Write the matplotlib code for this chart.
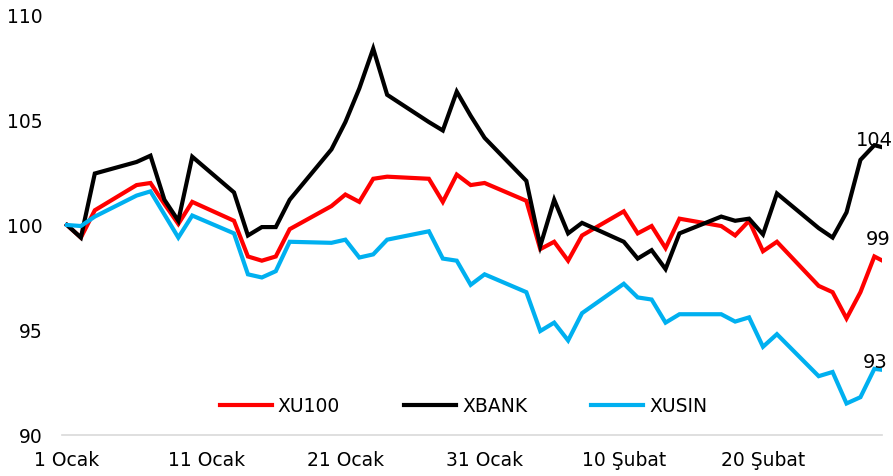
import numpy as np
import pandas as pd
import matplotlib
matplotlib.use("Agg")
import matplotlib.pyplot as plt

# business days, last value is an intraday reading on 28 Feb
dates = pd.to_datetime([
    "2025-01-01", "2025-01-02", "2025-01-03", "2025-01-06", "2025-01-07",
    "2025-01-08", "2025-01-09", "2025-01-10", "2025-01-13", "2025-01-14",
    "2025-01-15", "2025-01-16", "2025-01-17", "2025-01-20", "2025-01-21",
    "2025-01-22", "2025-01-23", "2025-01-24", "2025-01-27", "2025-01-28",
    "2025-01-29", "2025-01-30", "2025-01-31", "2025-02-03", "2025-02-04",
    "2025-02-05", "2025-02-06", "2025-02-07", "2025-02-10", "2025-02-11",
    "2025-02-12", "2025-02-13", "2025-02-14", "2025-02-17", "2025-02-18",
    "2025-02-19", "2025-02-20", "2025-02-21", "2025-02-24", "2025-02-25",
    "2025-02-26", "2025-02-27", "2025-02-28", "2025-02-28 14:00",
], format="ISO8601")

xu100 = [100, 99.4, 100.7, 101.9, 102.0, 101.0, 100.05, 101.1, 100.2, 98.5,
         98.3, 98.5, 99.8, 100.9, 101.45, 101.1, 102.2, 102.3, 102.2, 101.1,
         102.4, 101.9, 102.0, 101.15, 98.85, 99.2, 98.3, 99.5, 100.65, 99.6,
         99.95, 98.9, 100.3, 99.95, 99.5, 100.2, 98.75, 99.2, 97.1, 96.8,
         95.55, 96.8, 98.5, 98.3]
xbank = [100, 99.4, 102.45, 103.0, 103.3, 101.2, 100.2, 103.25, 101.55, 99.5,
         99.9, 99.9, 101.2, 103.6, 104.9, 106.5, 108.4, 106.2, 104.9, 104.5,
         106.35, 105.2, 104.15, 102.1, 99.0, 101.2, 99.6, 100.1, 99.2, 98.4,
         98.8, 97.9, 99.6, 100.4, 100.2, 100.3, 99.55, 101.5, 99.85, 99.4,
         100.6, 103.1, 103.8, 103.7]
xusin = [100, 99.95, 100.4, 101.4, 101.6, 100.5, 99.4, 100.45, 99.6, 97.65,
         97.5, 97.8, 99.2, 99.15, 99.3, 98.45, 98.6, 99.3, 99.7, 98.4,
         98.3, 97.15, 97.65, 96.8, 94.95, 95.35, 94.5, 95.8, 97.2, 96.55,
         96.45, 95.35, 95.75, 95.75, 95.4, 95.6, 94.2, 94.8, 92.8, 93.0,
         91.5, 91.8, 93.15, 93.1]

tick_dates = pd.to_datetime(["2025-01-01", "2025-01-11", "2025-01-21",
                             "2025-01-31", "2025-02-10", "2025-02-20"])
tick_labels = ["1 Ocak", "11 Ocak", "21 Ocak", "31 Ocak", "10 Şubat", "20 Şubat"]
end_labels = ["99", "104", "93"]

plt.rcParams["font.family"] = "DejaVu Sans"
plt.rcParams["font.size"] = 13.5

fig = plt.figure(figsize=(8.93, 4.77), dpi=100)
ax = fig.add_axes([0.0694, 0.0860, 0.9183, 0.8805])

series = [("XU100", xu100, "#ff0000"), ("XBANK", xbank, "#000000"), ("XUSIN", xusin, "#00b0f0")]
for name, vals, col in series:
    ax.plot(dates, vals, color=col, lw=3.0, label=name, solid_joinstyle="miter")

# end-of-line data labels
offsets = [(-3, 12), (-6, 1.5), (-5, 2)]
for (name, vals, col), lab, off in zip(series, end_labels, offsets):
    ax.annotate(lab, xy=(dates[-1], vals[-1]), xytext=off, textcoords="offset points",
                ha="center", va="baseline", fontsize=14, color="#000000")

x0 = pd.Timestamp("2025-01-01")
ax.set_xlim(x0 - pd.Timedelta(hours=8.6), x0 + pd.Timedelta(days=58.55))
ax.set_ylim(90, 110)
ax.set_yticks([90, 95, 100, 105, 110])
ax.set_xticks(tick_dates)
ax.set_xticklabels(tick_labels)

for s in ["top", "right", "left"]:
    ax.spines[s].set_visible(False)
ax.spines["bottom"].set_color("#d9d9d9")
ax.spines["bottom"].set_linewidth(1.2)
ax.tick_params(axis="both", length=0)
ax.tick_params(axis="y", pad=14)
ax.tick_params(axis="x", pad=11)

ax.legend(loc="center", bbox_to_anchor=(0.4896, 0.069), ncol=3, frameon=False,
          handlelength=2.8, handletextpad=0.3, columnspacing=3.4, fontsize=13.5)

fig.savefig("out.png", dpi=100)
